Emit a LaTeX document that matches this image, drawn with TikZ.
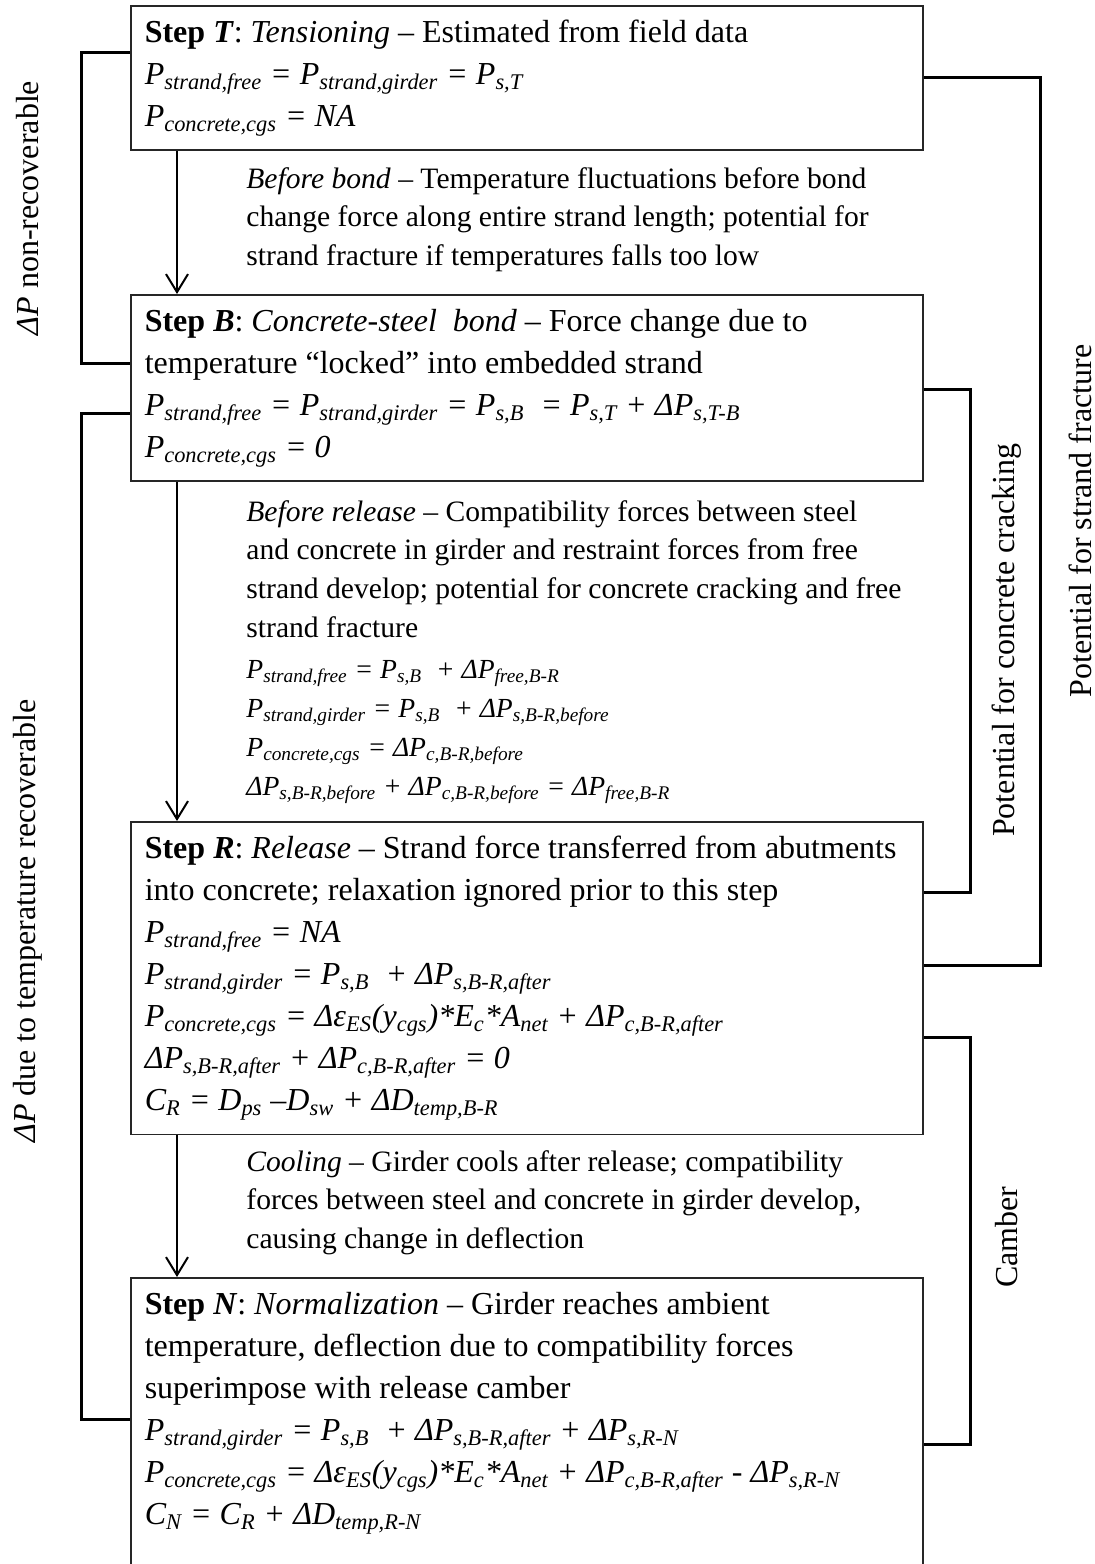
\documentclass[tikz,border=0pt]{standalone}
\usepackage{fontspec}
\setmainfont{Liberation Serif}
\usetikzlibrary{arrows.meta,positioning}
\newcommand{\sbs}[1]{\textsubscript{#1}}

\begin{document}
\begin{tikzpicture}[
    x=0.5pt,y=-0.5pt,
    stepbox/.style={draw=black!85,line width=0.8pt,anchor=north west,text width=382pt,inner xsep=7pt,inner ysep=7pt,align=flush left,font=\fontsize{16}{21}\selectfont},
    note/.style={anchor=north west,inner sep=0pt,align=flush left,font=\fontsize{14.8}{19.3}\selectfont},
    eqs/.style={inner sep=0pt,align=flush left,font=\fontsize{13.8}{19.5}\selectfont},
    side/.style={rotate=90,inner sep=0pt,font=\fontsize{16}{19}\selectfont},
    bracket/.style={line width=1.5pt},
    flow/.style={line width=1pt,-{Straight Barb[length=9pt,width=11pt]}}
  ]
    \useasboundingbox (0,0) rectangle (1095,1564);
    \clip (0,0) rectangle (1095,1564);
    % steps
    \node[stepbox] (T) at (130,5) {\textbf{Step \textit{T}}: \textit{Tensioning} -- Estimated from field data\\
      \textit{P\sbs{strand,free} = P\sbs{strand,girder} = P\sbs{s,T}}\\
      \textit{P\sbs{concrete,cgs} = NA}};
    \node[stepbox] (B) at (130,294) {\textbf{Step \textit{B}}: \textit{Concrete-steel\ \ bond} -- Force change due to\\
      temperature “locked” into embedded strand\\
      \textit{P\sbs{strand,free} = P\sbs{strand,girder} = P\sbs{s,B}\ \ = P\sbs{s,T} + ΔP\sbs{s,T-B}}\\
      \textit{P\sbs{concrete,cgs} = 0}};
    \node[stepbox] (R) at (130,821) {\textbf{Step \textit{R}}: \textit{Release} -- Strand force transferred from abutments\\
      into concrete; relaxation ignored prior to this step\\
      \textit{P\sbs{strand,free} = NA}\\
      \textit{P\sbs{strand,girder} = P\sbs{s,B}\ \ + ΔP\sbs{s,B-R,after}}\\
      \textit{P\sbs{concrete,cgs} = Δε\sbs{ES}(y\sbs{cgs})*E\sbs{c}*A\sbs{net} + ΔP\sbs{c,B-R,after}}\\
      \textit{ΔP\sbs{s,B-R,after} + ΔP\sbs{c,B-R,after} = 0}\\
      \textit{C\sbs{R} = D\sbs{ps} --D\sbs{sw} + ΔD\sbs{temp,B-R}}};
    \node[stepbox] (N) at (130,1277) {\textbf{Step \textit{N}}: \textit{Normalization} -- Girder reaches ambient\\
      temperature, deflection due to compatibility forces\\
      superimpose with release camber\\
      \textit{P\sbs{strand,girder} = P\sbs{s,B}\ \ + ΔP\sbs{s,B-R,after} + ΔP\sbs{s,R-N}}\\
      \textit{P\sbs{concrete,cgs} = Δε\sbs{ES}(y\sbs{cgs})*E\sbs{c}*A\sbs{net} + ΔP\sbs{c,B-R,after} - ΔP\sbs{s,R-N}}\\
      \textit{C\sbs{N} = C\sbs{R} + ΔD\sbs{temp,R-N}}\\
      \mbox{}\\ \mbox{}};
    % transitions
    \node[note] (bond) at (246,167) {\textit{Before bond} -- Temperature fluctuations before bond\\
      change force along entire strand length; potential for\\
      strand fracture if temperatures falls too low};
    \node[note] (release) at (246,500) {\textit{Before release} -- Compatibility forces between steel\\
      and concrete in girder and restraint forces from free\\
      strand develop; potential for concrete cracking and free\\
      strand fracture};
    \node[eqs,below=11pt of release.south west,anchor=north west] (releq) {\textit{P\sbs{strand,free} = P\sbs{s,B}\ \ + ΔP\sbs{free,B-R}}\\
      \textit{P\sbs{strand,girder} = P\sbs{s,B}\ \ + ΔP\sbs{s,B-R,before}}\\
      \textit{P\sbs{concrete,cgs} = ΔP\sbs{c,B-R,before}}\\
      \textit{ΔP\sbs{s,B-R,before} + ΔP\sbs{c,B-R,before} = ΔP\sbs{free,B-R}}};
    \node[note] (cool) at (246,1150) {\textit{Cooling} -- Girder cools after release; compatibility\\
      forces between steel and concrete in girder develop,\\
      causing change in deflection};
    \draw[flow] ([xshift=23.5pt]T.south west) -- ([xshift=23.5pt]B.north west);
    \draw[flow] ([xshift=23.5pt]B.south west) -- ([xshift=23.5pt]R.north west);
    \draw[flow] ([xshift=23.5pt]R.south west) -- ([xshift=23.5pt]N.north west);
    % brackets
    \draw[bracket] (T.west |- 0,52) -| (81,363) -- (B.west |- 0,363);
    \draw[bracket] (B.west |- 0,413) -| (81,1419) -- (N.west |- 0,1419);
    \draw[bracket] (T.east |- 0,77) -| (1040,965) -- (R.east |- 0,965);
    \draw[bracket] (B.east |- 0,389) -| (970,892) -- (R.east |- 0,892);
    \draw[bracket] (R.east |- 0,1037) -| (970,1444) -- (N.east |- 0,1444);
    \node[side] (nonrec) at (28,208) {\textit{ΔP} non-recoverable};
    \node[side] (recov) at (28,921) {\textit{ΔP} due to temperature recoverable};
    \node[side] (crack) at (1007,640) {Potential for concrete cracking};
    \node[side] (fract) at (1080,521) {Potential for strand fracture};
    \node[side] (camber) at (1007,1237) {Camber};
  \end{tikzpicture}
\end{document}
